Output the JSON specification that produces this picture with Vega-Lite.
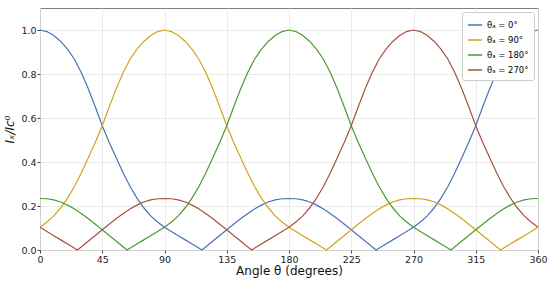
{
"$schema": "https://vega.github.io/schema/vega-lite/v6.json",
"width": 498, "height": 242,
"autosize": {"type": "none"},
"padding": {"left": 40, "top": 8, "right": 12, "bottom": 31},
"background": "white",
"config": {
  "font": "DejaVu Sans",
  "view": {"stroke": "#808080", "strokeWidth": 1},
  "axis": {"labelColor": "#222", "labelFontSize": 9.5, "tickColor": "#444", "tickSize": 3, "labelPadding": 1, "labelFlush": false, "domain": false, "gridColor": "#e4e4e4", "gridWidth": 0.8, "titleColor": "#111", "titleFontWeight": "normal"}
},
"data": {"values": [
{"s":0,"t":0,"v":1},{"s":0,"t":5,"v":0.993},{"s":0,"t":10,"v":0.975},{"s":0,"t":15,"v":0.948},{"s":0,"t":20,"v":0.912},{"s":0,"t":25,"v":0.866},{"s":0,"t":30,"v":0.805},{"s":0,"t":35,"v":0.732},{"s":0,"t":40,"v":0.65},{"s":0,"t":45,"v":0.565},{"s":0,"t":50,"v":0.49},{"s":0,"t":55,"v":0.42},{"s":0,"t":60,"v":0.352},{"s":0,"t":65,"v":0.29},{"s":0,"t":70,"v":0.237},{"s":0,"t":75,"v":0.192},{"s":0,"t":80,"v":0.155},{"s":0,"t":85,"v":0.127},{"s":0,"t":90,"v":0.103},{"s":0,"t":95,"v":0.084},{"s":0,"t":100,"v":0.065},{"s":0,"t":105,"v":0.046},{"s":0,"t":110,"v":0.027},{"s":0,"t":115,"v":0.008},{"s":0,"t":117,"v":0},{"s":0,"t":120,"v":0.015},{"s":0,"t":125,"v":0.041},{"s":0,"t":130,"v":0.066},{"s":0,"t":135,"v":0.092},{"s":0,"t":140,"v":0.117},{"s":0,"t":145,"v":0.142},{"s":0,"t":150,"v":0.165},{"s":0,"t":155,"v":0.186},{"s":0,"t":160,"v":0.204},{"s":0,"t":165,"v":0.218},{"s":0,"t":170,"v":0.228},{"s":0,"t":175,"v":0.233},{"s":0,"t":180,"v":0.234},{"s":0,"t":185,"v":0.233},{"s":0,"t":190,"v":0.228},{"s":0,"t":195,"v":0.218},{"s":0,"t":200,"v":0.204},{"s":0,"t":205,"v":0.186},{"s":0,"t":210,"v":0.165},{"s":0,"t":215,"v":0.142},{"s":0,"t":220,"v":0.117},{"s":0,"t":225,"v":0.092},{"s":0,"t":230,"v":0.066},{"s":0,"t":235,"v":0.041},{"s":0,"t":240,"v":0.015},{"s":0,"t":243,"v":0},{"s":0,"t":245,"v":0.008},{"s":0,"t":250,"v":0.027},{"s":0,"t":255,"v":0.046},{"s":0,"t":260,"v":0.065},{"s":0,"t":265,"v":0.084},{"s":0,"t":270,"v":0.103},{"s":0,"t":275,"v":0.127},{"s":0,"t":280,"v":0.155},{"s":0,"t":285,"v":0.192},{"s":0,"t":290,"v":0.237},{"s":0,"t":295,"v":0.29},{"s":0,"t":300,"v":0.352},{"s":0,"t":305,"v":0.42},{"s":0,"t":310,"v":0.49},{"s":0,"t":315,"v":0.565},{"s":0,"t":320,"v":0.65},{"s":0,"t":325,"v":0.732},{"s":0,"t":330,"v":0.805},{"s":0,"t":335,"v":0.866},{"s":0,"t":340,"v":0.912},{"s":0,"t":345,"v":0.948},{"s":0,"t":350,"v":0.975},{"s":0,"t":355,"v":0.993},{"s":0,"t":360,"v":1},
{"s":90,"t":0,"v":0.103},{"s":90,"t":5,"v":0.127},{"s":90,"t":10,"v":0.155},{"s":90,"t":15,"v":0.192},{"s":90,"t":20,"v":0.237},{"s":90,"t":25,"v":0.29},{"s":90,"t":30,"v":0.352},{"s":90,"t":35,"v":0.42},{"s":90,"t":40,"v":0.49},{"s":90,"t":45,"v":0.565},{"s":90,"t":50,"v":0.65},{"s":90,"t":55,"v":0.732},{"s":90,"t":60,"v":0.805},{"s":90,"t":65,"v":0.866},{"s":90,"t":70,"v":0.912},{"s":90,"t":75,"v":0.948},{"s":90,"t":80,"v":0.975},{"s":90,"t":85,"v":0.993},{"s":90,"t":90,"v":1},{"s":90,"t":95,"v":0.993},{"s":90,"t":100,"v":0.975},{"s":90,"t":105,"v":0.948},{"s":90,"t":110,"v":0.912},{"s":90,"t":115,"v":0.866},{"s":90,"t":120,"v":0.805},{"s":90,"t":125,"v":0.732},{"s":90,"t":130,"v":0.65},{"s":90,"t":135,"v":0.565},{"s":90,"t":140,"v":0.49},{"s":90,"t":145,"v":0.42},{"s":90,"t":150,"v":0.352},{"s":90,"t":155,"v":0.29},{"s":90,"t":160,"v":0.237},{"s":90,"t":165,"v":0.192},{"s":90,"t":170,"v":0.155},{"s":90,"t":175,"v":0.127},{"s":90,"t":180,"v":0.103},{"s":90,"t":185,"v":0.084},{"s":90,"t":190,"v":0.065},{"s":90,"t":195,"v":0.046},{"s":90,"t":200,"v":0.027},{"s":90,"t":205,"v":0.008},{"s":90,"t":207,"v":0},{"s":90,"t":210,"v":0.015},{"s":90,"t":215,"v":0.041},{"s":90,"t":220,"v":0.066},{"s":90,"t":225,"v":0.092},{"s":90,"t":230,"v":0.117},{"s":90,"t":235,"v":0.142},{"s":90,"t":240,"v":0.165},{"s":90,"t":245,"v":0.186},{"s":90,"t":250,"v":0.204},{"s":90,"t":255,"v":0.218},{"s":90,"t":260,"v":0.228},{"s":90,"t":265,"v":0.233},{"s":90,"t":270,"v":0.234},{"s":90,"t":275,"v":0.233},{"s":90,"t":280,"v":0.228},{"s":90,"t":285,"v":0.218},{"s":90,"t":290,"v":0.204},{"s":90,"t":295,"v":0.186},{"s":90,"t":300,"v":0.165},{"s":90,"t":305,"v":0.142},{"s":90,"t":310,"v":0.117},{"s":90,"t":315,"v":0.092},{"s":90,"t":320,"v":0.066},{"s":90,"t":325,"v":0.041},{"s":90,"t":330,"v":0.015},{"s":90,"t":333,"v":0},{"s":90,"t":335,"v":0.008},{"s":90,"t":340,"v":0.027},{"s":90,"t":345,"v":0.046},{"s":90,"t":350,"v":0.065},{"s":90,"t":355,"v":0.084},{"s":90,"t":360,"v":0.103},
{"s":180,"t":0,"v":0.234},{"s":180,"t":5,"v":0.233},{"s":180,"t":10,"v":0.228},{"s":180,"t":15,"v":0.218},{"s":180,"t":20,"v":0.204},{"s":180,"t":25,"v":0.186},{"s":180,"t":30,"v":0.165},{"s":180,"t":35,"v":0.142},{"s":180,"t":40,"v":0.117},{"s":180,"t":45,"v":0.092},{"s":180,"t":50,"v":0.066},{"s":180,"t":55,"v":0.041},{"s":180,"t":60,"v":0.015},{"s":180,"t":63,"v":0},{"s":180,"t":65,"v":0.008},{"s":180,"t":70,"v":0.027},{"s":180,"t":75,"v":0.046},{"s":180,"t":80,"v":0.065},{"s":180,"t":85,"v":0.084},{"s":180,"t":90,"v":0.103},{"s":180,"t":95,"v":0.127},{"s":180,"t":100,"v":0.155},{"s":180,"t":105,"v":0.192},{"s":180,"t":110,"v":0.237},{"s":180,"t":115,"v":0.29},{"s":180,"t":120,"v":0.352},{"s":180,"t":125,"v":0.42},{"s":180,"t":130,"v":0.49},{"s":180,"t":135,"v":0.565},{"s":180,"t":140,"v":0.65},{"s":180,"t":145,"v":0.732},{"s":180,"t":150,"v":0.805},{"s":180,"t":155,"v":0.866},{"s":180,"t":160,"v":0.912},{"s":180,"t":165,"v":0.948},{"s":180,"t":170,"v":0.975},{"s":180,"t":175,"v":0.993},{"s":180,"t":180,"v":1},{"s":180,"t":185,"v":0.993},{"s":180,"t":190,"v":0.975},{"s":180,"t":195,"v":0.948},{"s":180,"t":200,"v":0.912},{"s":180,"t":205,"v":0.866},{"s":180,"t":210,"v":0.805},{"s":180,"t":215,"v":0.732},{"s":180,"t":220,"v":0.65},{"s":180,"t":225,"v":0.565},{"s":180,"t":230,"v":0.49},{"s":180,"t":235,"v":0.42},{"s":180,"t":240,"v":0.352},{"s":180,"t":245,"v":0.29},{"s":180,"t":250,"v":0.237},{"s":180,"t":255,"v":0.192},{"s":180,"t":260,"v":0.155},{"s":180,"t":265,"v":0.127},{"s":180,"t":270,"v":0.103},{"s":180,"t":275,"v":0.084},{"s":180,"t":280,"v":0.065},{"s":180,"t":285,"v":0.046},{"s":180,"t":290,"v":0.027},{"s":180,"t":295,"v":0.008},{"s":180,"t":297,"v":0},{"s":180,"t":300,"v":0.015},{"s":180,"t":305,"v":0.041},{"s":180,"t":310,"v":0.066},{"s":180,"t":315,"v":0.092},{"s":180,"t":320,"v":0.117},{"s":180,"t":325,"v":0.142},{"s":180,"t":330,"v":0.165},{"s":180,"t":335,"v":0.186},{"s":180,"t":340,"v":0.204},{"s":180,"t":345,"v":0.218},{"s":180,"t":350,"v":0.228},{"s":180,"t":355,"v":0.233},{"s":180,"t":360,"v":0.234},
{"s":270,"t":0,"v":0.103},{"s":270,"t":5,"v":0.084},{"s":270,"t":10,"v":0.065},{"s":270,"t":15,"v":0.046},{"s":270,"t":20,"v":0.027},{"s":270,"t":25,"v":0.008},{"s":270,"t":27,"v":0},{"s":270,"t":30,"v":0.015},{"s":270,"t":35,"v":0.041},{"s":270,"t":40,"v":0.066},{"s":270,"t":45,"v":0.092},{"s":270,"t":50,"v":0.117},{"s":270,"t":55,"v":0.142},{"s":270,"t":60,"v":0.165},{"s":270,"t":65,"v":0.186},{"s":270,"t":70,"v":0.204},{"s":270,"t":75,"v":0.218},{"s":270,"t":80,"v":0.228},{"s":270,"t":85,"v":0.233},{"s":270,"t":90,"v":0.234},{"s":270,"t":95,"v":0.233},{"s":270,"t":100,"v":0.228},{"s":270,"t":105,"v":0.218},{"s":270,"t":110,"v":0.204},{"s":270,"t":115,"v":0.186},{"s":270,"t":120,"v":0.165},{"s":270,"t":125,"v":0.142},{"s":270,"t":130,"v":0.117},{"s":270,"t":135,"v":0.092},{"s":270,"t":140,"v":0.066},{"s":270,"t":145,"v":0.041},{"s":270,"t":150,"v":0.015},{"s":270,"t":153,"v":0},{"s":270,"t":155,"v":0.008},{"s":270,"t":160,"v":0.027},{"s":270,"t":165,"v":0.046},{"s":270,"t":170,"v":0.065},{"s":270,"t":175,"v":0.084},{"s":270,"t":180,"v":0.103},{"s":270,"t":185,"v":0.127},{"s":270,"t":190,"v":0.155},{"s":270,"t":195,"v":0.192},{"s":270,"t":200,"v":0.237},{"s":270,"t":205,"v":0.29},{"s":270,"t":210,"v":0.352},{"s":270,"t":215,"v":0.42},{"s":270,"t":220,"v":0.49},{"s":270,"t":225,"v":0.565},{"s":270,"t":230,"v":0.65},{"s":270,"t":235,"v":0.732},{"s":270,"t":240,"v":0.805},{"s":270,"t":245,"v":0.866},{"s":270,"t":250,"v":0.912},{"s":270,"t":255,"v":0.948},{"s":270,"t":260,"v":0.975},{"s":270,"t":265,"v":0.993},{"s":270,"t":270,"v":1},{"s":270,"t":275,"v":0.993},{"s":270,"t":280,"v":0.975},{"s":270,"t":285,"v":0.948},{"s":270,"t":290,"v":0.912},{"s":270,"t":295,"v":0.866},{"s":270,"t":300,"v":0.805},{"s":270,"t":305,"v":0.732},{"s":270,"t":310,"v":0.65},{"s":270,"t":315,"v":0.565},{"s":270,"t":320,"v":0.49},{"s":270,"t":325,"v":0.42},{"s":270,"t":330,"v":0.352},{"s":270,"t":335,"v":0.29},{"s":270,"t":340,"v":0.237},{"s":270,"t":345,"v":0.192},{"s":270,"t":350,"v":0.155},{"s":270,"t":355,"v":0.127},{"s":270,"t":360,"v":0.103}
]},
"mark": {"type": "line", "strokeWidth": 1.2},
"encoding": {
  "x": {"field": "t", "type": "quantitative", "scale": {"domain": [0, 360], "nice": false},
        "axis": {"values": [0,45,90,135,180,225,270,315,360], "title": "Angle θ (degrees)", "titleFontSize": 12, "titlePadding": 2}},
  "y": {"field": "v", "type": "quantitative", "scale": {"domain": [0, 1.1], "nice": false, "zero": true},
        "axis": {"values": [0,0.2,0.4,0.6,0.8,1.0], "format": ".1f", "title": "Iₓ/Ic⁰", "titleFontSize": 12, "titleFontStyle": "italic", "titlePadding": 4}},
  "color": {"field": "s", "type": "nominal",
        "scale": {"domain": [0,90,180,270], "range": ["#4a72b8", "#d4a21c", "#4a9a34", "#a8503e"]},
        "legend": {"title": null, "orient": "top-right", "offset": 4, "labelExpr": "'θₐ = ' + datum.label + '°'", "fillColor": "white", "strokeColor": "#cccccc", "padding": 5, "symbolType": "stroke", "symbolStrokeWidth": 1.5, "symbolSize": 200, "labelFontSize": 8.5, "rowPadding": 2, "cornerRadius": 2}}
}
}
